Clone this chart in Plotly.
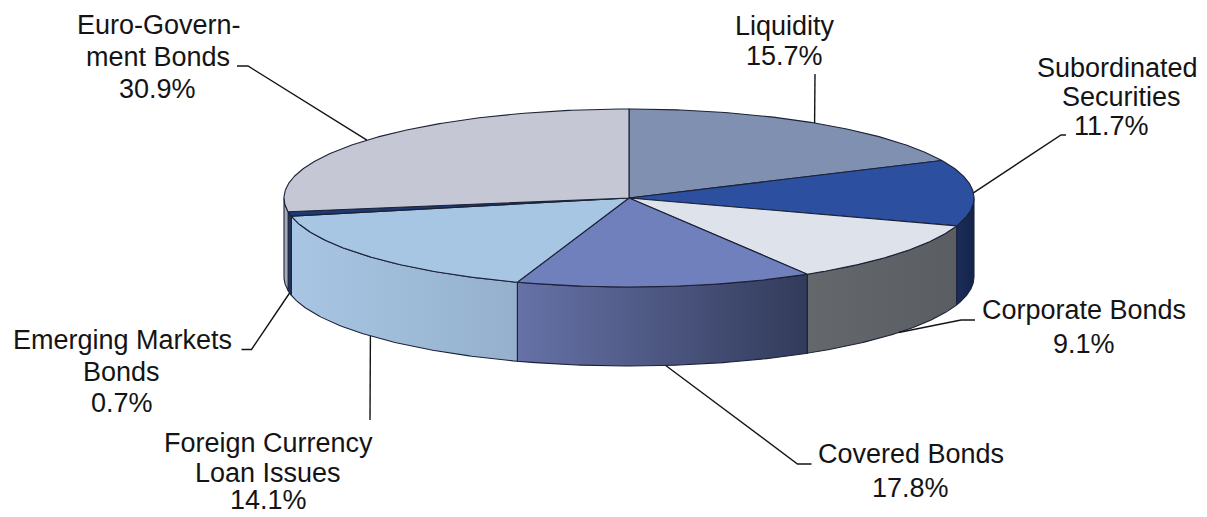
import numpy as np
import plotly.graph_objects as go

# ---------------- data ----------------
categories = ["Liquidity", "Subordinated Securities", "Corporate Bonds", "Covered Bonds",
              "Foreign Currency Loan Issues", "Emerging Markets Bonds", "Euro-Government Bonds"]
# label text lines as printed on the chart
name_lines = [["Liquidity"], ["Subordinated", "Securities"], ["Corporate Bonds"], ["Covered Bonds"],
              ["Foreign Currency", "Loan Issues"], ["Emerging Markets", "Bonds"], ["Euro-Govern-", "ment Bonds"]]
# percentages printed in the data labels
label_pct = [15.7, 11.7, 9.1, 17.8, 14.1, 0.7, 30.9]
# slice sizes as drawn in the picture (%), clockwise from 12 o'clock
slice_share = [18.1, 12.0, 11.3, 13.9, 16.5, 0.8, 27.5]

# ---------------- styles ----------------
top_colors = ["#8090B0", "#2D4F9F", "#DDE2EB", "#6F80BD", "#A6C6E4", "#1E3A72", "#C5C8D4"]
side_colors = [("#6A7898", "#5A6888"), ("#1B2D5A", "#132349"), ("#64676B", "#5A5D61"),
               ("#6672A7", "#323B5A"), ("#A8C6E4", "#94B0CC"), ("#1E3A70", "#1A3366"),
               ("#ABAFBD", "#A3A7B5")]
edge_color = "#1B2238"
CX, CY, RX, RY, DEPTH = 629.0, 198.0, 345.0, 89.0, 79.0
FONT = dict(family="Liberation Sans, Arial, sans-serif", size=27, color="#141414")
PAGE_MARGIN = 8  # default HTML body margin around the plot div

# label placement (x-centre, y-centre per line) and leader elbows, in page pixels
label_pos = [
    [(785, 26), (784, 55.5)],
    [(1117, 68), (1121.5, 96.5), (1111, 126)],
    [(1083.5, 310), (1083.5, 344)],
    [(910.5, 454), (910.5, 488)],
    [(268, 443), (268, 472.5), (268, 500)],
    [(122.5, 340), (121.5, 371.5), (122, 403)],
    [(158.5, 24.5), (157.5, 56.5), (157.5, 88.5)],
]
leader_elbows = [
    [(815, 74)],
    [(1061, 135), (1066, 135)],
    [(961, 320), (975, 320)],
    [(797.5, 464), (811.5, 464)],
    [(370, 420)],
    [(251.5, 349.5), (241.5, 349.5)],
    [(248, 66), (237, 66)],
]


def rim(theta_deg, drop=0.0):
    t = np.radians(theta_deg)
    return CX + RX * np.cos(t), CY - RY * np.sin(t) + drop


fig = go.Figure()

shares = np.array(slice_share, dtype=float)
shares = shares / shares.sum() * 360.0
bounds = 90.0 - np.concatenate([[0.0], np.cumsum(shares)])

# sides (front half only: theta in [-180, 0])
for i in range(len(categories)):
    hi, lo = bounds[i], bounds[i + 1]
    a, b = max(lo, -180.0), min(hi, 0.0)
    if b <= a:
        continue
    th = np.linspace(a, b, 80)
    xt, yt = rim(th)
    xb, yb = rim(th[::-1], DEPTH)
    xs = np.concatenate([xt, xb, xt[:1]])
    ys = np.concatenate([yt, yb, yt[:1]])
    c1, c2 = side_colors[i]
    fig.add_trace(go.Scatter(
        x=xs, y=ys, mode="lines", fill="toself",
        fillgradient=dict(type="horizontal", colorscale=[[0, c1], [1, c2]]),
        line=dict(color=edge_color, width=1.1), hoverinfo="skip", showlegend=False))

# top faces
for i in range(len(categories)):
    hi, lo = bounds[i], bounds[i + 1]
    th = np.linspace(hi, lo, max(4, int(abs(hi - lo) * 2)))
    xa, ya = rim(th)
    xs = np.concatenate([[CX], xa, [CX]])
    ys = np.concatenate([[CY], ya, [CY]])
    fig.add_trace(go.Scatter(
        x=xs, y=ys, mode="lines", fill="toself", fillcolor=top_colors[i],
        line=dict(color=edge_color, width=1.1), name=categories[i],
        hovertemplate=f"{categories[i]}: {label_pct[i]:.1f}%<extra></extra>", showlegend=False))

# labels and leader lines
shapes = []
annotations = []
for i in range(len(categories)):
    mid = (bounds[i] + bounds[i + 1]) / 2.0
    if np.sin(np.radians(mid)) >= 0:
        ax, ay = rim(mid)
    else:
        ax, ay = rim(mid, DEPTH)
    pts = [(ax, ay)] + leader_elbows[i]
    path = "M " + " L ".join(f"{px:.1f} {py:.1f}" for px, py in pts)
    shapes.append(dict(type="path", path=path, xref="x", yref="y",
                       line=dict(color="#141414", width=1.4)))
    texts = name_lines[i] + [f"{label_pct[i]:.1f}%"]
    for (tx, ty), t in zip(label_pos[i], texts):
        annotations.append(dict(x=tx, y=ty, xref="x", yref="y", text=t, showarrow=False,
                                xanchor="center", yanchor="middle", font=FONT, borderpad=0))

W, H = 1207, 517
fig.update_layout(
    width=W - PAGE_MARGIN, height=H - PAGE_MARGIN,
    margin=dict(l=0, r=0, t=0, b=0),
    paper_bgcolor="white", plot_bgcolor="white",
    xaxis=dict(range=[PAGE_MARGIN, W], visible=False, fixedrange=True),
    yaxis=dict(range=[H, PAGE_MARGIN], visible=False, fixedrange=True),
    shapes=shapes, annotations=annotations, showlegend=False,
)

fig.write_html("out.html")
